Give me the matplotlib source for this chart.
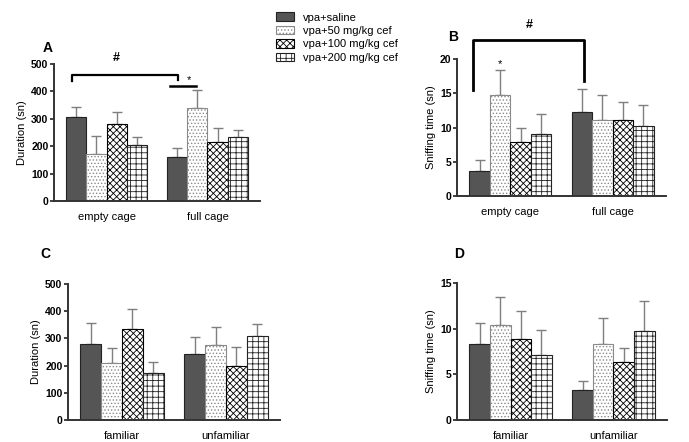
import numpy as np
import matplotlib
matplotlib.use('Agg')
import matplotlib.pyplot as plt
from matplotlib.patches import Patch

series = ['vpa+saline', 'vpa+50 mg/kg cef', 'vpa+100 mg/kg cef', 'vpa+200 mg/kg cef']

groups_ab = ['empty cage', 'full cage']
groups_cd = ['familiar', 'unfamiliar']

# means per series (rows) for each group (columns)
a_mean = [[308, 160], [172, 340], [280, 215], [204, 232]]
a_sem = [[35, 33], [65, 65], [45, 53], [29, 26]]

b_mean = [[3.7, 12.2], [14.7, 11.1], [7.9, 11.1], [9.0, 10.2]]
b_sem = [[1.5, 3.4], [3.7, 3.7], [2.0, 2.6], [2.9, 3.1]]

c_mean = [[280, 241], [208, 274], [336, 200], [172, 309]]
c_sem = [[77, 63], [58, 68], [72, 69], [41, 45]]

d_mean = [[8.3, 3.3], [10.4, 8.3], [8.9, 6.3], [7.1, 9.7]]
d_sem = [[2.3, 1.0], [3.1, 2.9], [3.0, 1.6], [2.7, 3.3]]

plt.rcParams['font.family'] = ['Liberation Sans', 'DejaVu Sans']
plt.rcParams['hatch.linewidth'] = 0.6

styles = [
    dict(facecolor='#555555', edgecolor='#222222', hatch=None),
    dict(facecolor='white', edgecolor='#8a8a8a', hatch='.....'),
    dict(facecolor='white', edgecolor='black', hatch='xxxxx'),
    dict(facecolor='white', edgecolor='#222222', hatch='+++'),
]

W, H = 689, 442
fig = plt.figure(figsize=(W / 100, H / 100), dpi=100)


def px_axes(left, top, right, bottom):
    return fig.add_axes([left / W, 1 - bottom / H, (right - left) / W, (bottom - top) / H])


def draw(ax, means, sems, groups, ymax, step, ylabel):
    x = np.arange(len(groups))
    w = 0.2
    for i in range(4):
        pos = x + (i - 1.5) * w
        st = styles[i]
        ax.bar(pos, means[i], w, facecolor=st['facecolor'], edgecolor=st['edgecolor'],
               hatch=st['hatch'], linewidth=0.8, zorder=2)
        ax.errorbar(pos, means[i], yerr=[np.zeros(len(groups)), sems[i]], fmt='none',
                    ecolor='#7f7f7f', elinewidth=1.0, capsize=3.5, capthick=1.0, zorder=1)
    ax.set_xlim(-0.52, 1.52)
    ax.set_ylim(0, ymax)
    ax.set_yticks(np.arange(0, ymax + 0.1, step))
    ax.set_xticks(x)
    ax.set_xticklabels(groups, fontsize=8)
    ax.tick_params(axis='x', length=0, pad=8)
    ax.tick_params(axis='y', length=3, width=1.2, labelsize=7.5, pad=1, color='#222222')
    for lab in ax.get_yticklabels():
        lab.set_fontweight('bold')
    ax.set_ylabel(ylabel, fontsize=8, labelpad=3)
    for s in ['top', 'right']:
        ax.spines[s].set_visible(False)
    for s in ['left', 'bottom']:
        ax.spines[s].set_linewidth(1.4)
        ax.spines[s].set_color('#333333')


axA = px_axes(54, 64, 260, 201)
draw(axA, a_mean, a_sem, groups_ab, 500, 100, 'Duration (sn)')
axB = px_axes(457, 59, 666, 196)
draw(axB, b_mean, b_sem, groups_ab, 20, 5, 'Sniffing time (sn)')
axC = px_axes(68, 284, 280, 420)
draw(axC, c_mean, c_sem, groups_cd, 500, 100, 'Duration (sn)')
axD = px_axes(457, 283, 667, 420)
draw(axD, d_mean, d_sem, groups_cd, 15, 5, 'Sniffing time (sn)')

# panel letters
for lbl, (px, py) in zip('ABCD', [(48, 48), (453, 37), (45, 254), (459, 254)]):
    fig.text(px / W, 1 - py / H, lbl, fontsize=10, fontweight='bold', ha='center', va='center')

# significance marks (figure pixel coords)
def fline(xs, ys, lw=1.6):
    fig.add_artist(plt.Line2D([v / W for v in xs], [1 - v / H for v in ys], color='black', lw=lw))

fline([72, 72, 178, 178], [81, 75, 75, 80])
fig.text(116 / W, 1 - 58 / H, '#', fontsize=9, fontweight='bold', ha='center', va='center')
fline([170, 196], [86, 86], lw=1.8)
fig.text(189 / W, 1 - 80 / H, '*', fontsize=8, ha='center', va='center')

fline([473, 473, 584, 584], [90, 40, 40, 81], lw=2)
fig.text(529 / W, 1 - 25 / H, '#', fontsize=9, fontweight='bold', ha='center', va='center')
fig.text(500 / W, 1 - 64 / H, '*', fontsize=8, ha='center', va='center')

handles = [Patch(facecolor=st['facecolor'], edgecolor=st['edgecolor'], hatch=st['hatch'], linewidth=0.8)
           for st in styles]
fig.legend(handles, series, loc='upper left', bbox_to_anchor=(272 / W, 1 - 8 / H), frameon=False,
           fontsize=8, handlelength=1.6, handleheight=0.8, handletextpad=0.8, labelspacing=0.3,
           borderaxespad=0)

fig.savefig('out.png', dpi=100)
